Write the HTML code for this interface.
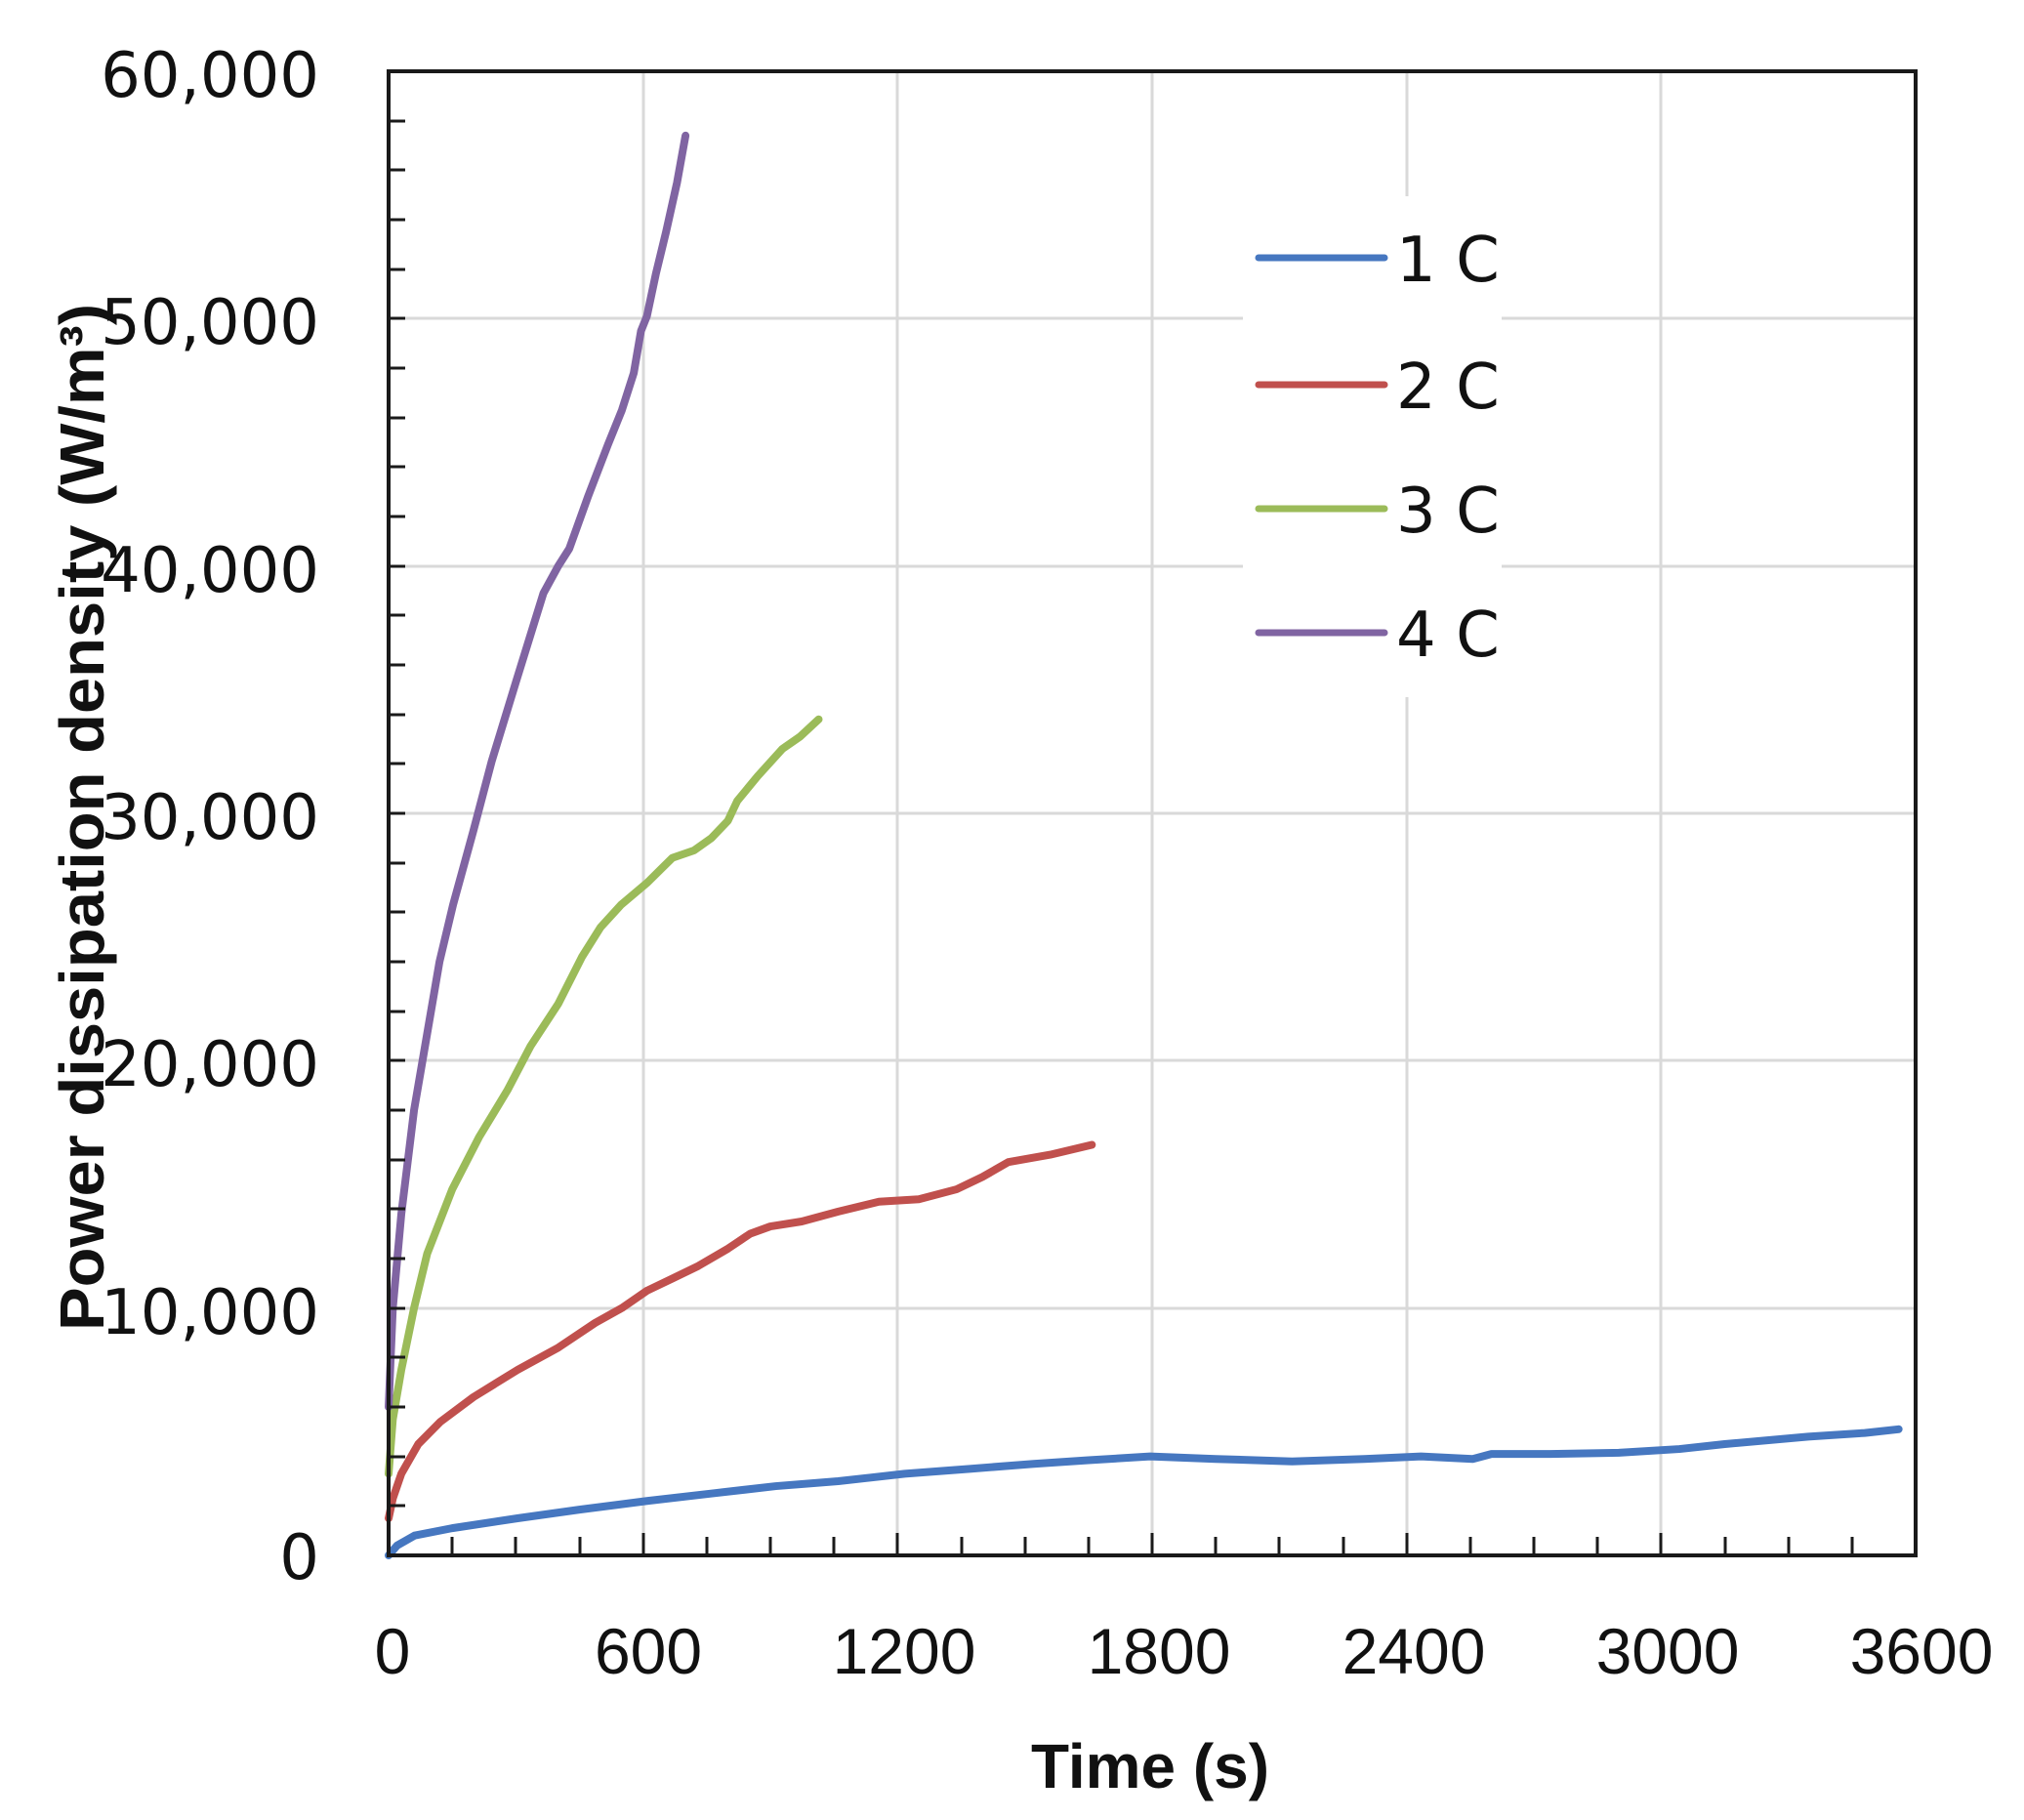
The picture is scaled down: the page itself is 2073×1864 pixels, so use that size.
<!DOCTYPE html>
<html><head><meta charset="utf-8"><style>html,body{margin:0;padding:0;background:#fff}svg{display:block}</style></head>
<body>
<svg width="2073" height="1864" viewBox="0 0 2073 1864" xmlns="http://www.w3.org/2000/svg">
<rect width="2073" height="1864" fill="#fff"/>
<g stroke="#d9d9d9" stroke-width="3">
<line x1="659" y1="73" x2="659" y2="1593"/><line x1="919" y1="73" x2="919" y2="1593"/><line x1="1180" y1="73" x2="1180" y2="1593"/><line x1="1441" y1="73" x2="1441" y2="1593"/><line x1="1701" y1="73" x2="1701" y2="1593"/>
<line x1="398" y1="326" x2="1962" y2="326"/><line x1="398" y1="580" x2="1962" y2="580"/><line x1="398" y1="833" x2="1962" y2="833"/><line x1="398" y1="1086" x2="1962" y2="1086"/><line x1="398" y1="1340" x2="1962" y2="1340"/>
</g>
<rect x="1273" y="201" width="265" height="513" fill="#fff"/>
<g transform="translate(398,1593) scale(0.434444,-0.0253333)" fill="none" stroke-width="8" stroke-linejoin="round" stroke-linecap="round">
<polyline vector-effect="non-scaling-stroke" stroke="#4677c0" points="0,0 20,400 61,800 150,1100 304,1500 450,1850 609,2200 760,2500 913,2800 1060,3000 1217,3300 1370,3500 1521,3700 1650,3850 1795,4000 1950,3900 2130,3800 2300,3900 2434,4000 2556,3900 2600,4100 2739,4100 2900,4150 3043,4300 3150,4500 3347,4800 3480,4950 3560,5100"/>
<polyline vector-effect="non-scaling-stroke" stroke="#c0504d" points="0,1500 10,2300 30,3300 70,4500 122,5400 200,6400 304,7500 400,8400 487,9400 550,10000 609,10700 670,11200 730,11700 800,12400 852,13000 900,13300 974,13500 1060,13900 1156,14300 1250,14400 1339,14800 1400,15300 1461,15900 1560,16200 1658,16600"/>
<polyline vector-effect="non-scaling-stroke" stroke="#9bbb59" points="0,3300 10,5500 30,7500 60,10000 91,12200 150,14800 213,16900 280,18800 335,20600 400,22300 456,24200 500,25400 548,26300 610,27200 669,28200 720,28500 761,29000 800,29700 822,30500 870,31500 928,32600 970,33100 1014,33800"/>
<polyline vector-effect="non-scaling-stroke" stroke="#8064a2" points="0,6000 10,10000 30,13800 60,18000 91,21100 120,24000 152,26300 200,29300 243,32100 300,35300 365,38900 400,40000 426,40700 470,42800 517,44900 550,46300 578,47800 595,49500 609,50100 630,51800 654,53500 680,55500 700,57400"/>
</g>
<rect x="398" y="73" width="1564" height="1520" fill="none" stroke="#1a1a1a" stroke-width="4"/>
<g stroke="#1a1a1a" stroke-width="3">
<line x1="398" y1="124" x2="415" y2="124"/><line x1="398" y1="174" x2="415" y2="174"/><line x1="398" y1="225" x2="415" y2="225"/><line x1="398" y1="276" x2="415" y2="276"/><line x1="398" y1="326" x2="415" y2="326"/>
<line x1="398" y1="377" x2="415" y2="377"/><line x1="398" y1="428" x2="415" y2="428"/><line x1="398" y1="478" x2="415" y2="478"/><line x1="398" y1="529" x2="415" y2="529"/><line x1="398" y1="580" x2="415" y2="580"/>
<line x1="398" y1="630" x2="415" y2="630"/><line x1="398" y1="681" x2="415" y2="681"/><line x1="398" y1="732" x2="415" y2="732"/><line x1="398" y1="782" x2="415" y2="782"/><line x1="398" y1="833" x2="415" y2="833"/>
<line x1="398" y1="884" x2="415" y2="884"/><line x1="398" y1="934" x2="415" y2="934"/><line x1="398" y1="985" x2="415" y2="985"/><line x1="398" y1="1036" x2="415" y2="1036"/><line x1="398" y1="1086" x2="415" y2="1086"/>
<line x1="398" y1="1137" x2="415" y2="1137"/><line x1="398" y1="1188" x2="415" y2="1188"/><line x1="398" y1="1238" x2="415" y2="1238"/><line x1="398" y1="1289" x2="415" y2="1289"/><line x1="398" y1="1340" x2="415" y2="1340"/>
<line x1="398" y1="1390" x2="415" y2="1390"/><line x1="398" y1="1441" x2="415" y2="1441"/><line x1="398" y1="1492" x2="415" y2="1492"/><line x1="398" y1="1542" x2="415" y2="1542"/>
</g>
<g stroke="#1a1a1a" stroke-width="3">
<line x1="463" y1="1593" x2="463" y2="1574"/><line x1="528" y1="1593" x2="528" y2="1574"/><line x1="594" y1="1593" x2="594" y2="1574"/><line x1="659" y1="1593" x2="659" y2="1570"/>
<line x1="724" y1="1593" x2="724" y2="1574"/><line x1="789" y1="1593" x2="789" y2="1574"/><line x1="854" y1="1593" x2="854" y2="1574"/><line x1="919" y1="1593" x2="919" y2="1570"/>
<line x1="985" y1="1593" x2="985" y2="1574"/><line x1="1050" y1="1593" x2="1050" y2="1574"/><line x1="1115" y1="1593" x2="1115" y2="1574"/><line x1="1180" y1="1593" x2="1180" y2="1570"/>
<line x1="1245" y1="1593" x2="1245" y2="1574"/><line x1="1310" y1="1593" x2="1310" y2="1574"/><line x1="1376" y1="1593" x2="1376" y2="1574"/><line x1="1441" y1="1593" x2="1441" y2="1570"/>
<line x1="1506" y1="1593" x2="1506" y2="1574"/><line x1="1571" y1="1593" x2="1571" y2="1574"/><line x1="1636" y1="1593" x2="1636" y2="1574"/><line x1="1701" y1="1593" x2="1701" y2="1570"/>
<line x1="1767" y1="1593" x2="1767" y2="1574"/><line x1="1832" y1="1593" x2="1832" y2="1574"/><line x1="1897" y1="1593" x2="1897" y2="1574"/>
</g>
<g font-family="DejaVu Sans, sans-serif" font-size="64" fill="#111" text-anchor="end">
<text x="327" y="99">60,000</text><text x="327" y="352">50,000</text><text x="327" y="606">40,000</text><text x="327" y="859">30,000</text><text x="327" y="1112">20,000</text><text x="327" y="1366">10,000</text><text x="327" y="1617">0</text>
</g>
<g font-family="Liberation Sans, sans-serif" font-size="66" fill="#111" text-anchor="middle">
<text x="402" y="1714">0</text><text x="664" y="1714">600</text><text x="926" y="1714">1200</text><text x="1187" y="1714">1800</text><text x="1448" y="1714">2400</text><text x="1708" y="1714">3000</text><text x="1968" y="1714">3600</text>
</g>
<text x="1178" y="1831" font-family="Liberation Sans, sans-serif" font-weight="bold" font-size="64" text-anchor="middle" textLength="244" lengthAdjust="spacingAndGlyphs" fill="#111">Time (s)</text>
<text transform="translate(106,837) rotate(-90)" font-family="Liberation Sans, sans-serif" font-weight="bold" font-size="64" text-anchor="middle" textLength="1052" lengthAdjust="spacingAndGlyphs" fill="#111">Power dissipation density (W/m³)</text>
<g stroke-width="7" stroke-linecap="round">
<line x1="1289" y1="264" x2="1418" y2="264" stroke="#4677c0"/>
<line x1="1289" y1="394" x2="1418" y2="394" stroke="#c0504d"/>
<line x1="1289" y1="521" x2="1418" y2="521" stroke="#9bbb59"/>
<line x1="1289" y1="648" x2="1418" y2="648" stroke="#8064a2"/>
</g>
<g font-family="DejaVu Sans, sans-serif" font-size="64" fill="#111">
<text x="1430" y="288">1 C</text><text x="1430" y="418">2 C</text><text x="1430" y="545">3 C</text><text x="1430" y="672">4 C</text>
</g>
</svg>
</body></html>
